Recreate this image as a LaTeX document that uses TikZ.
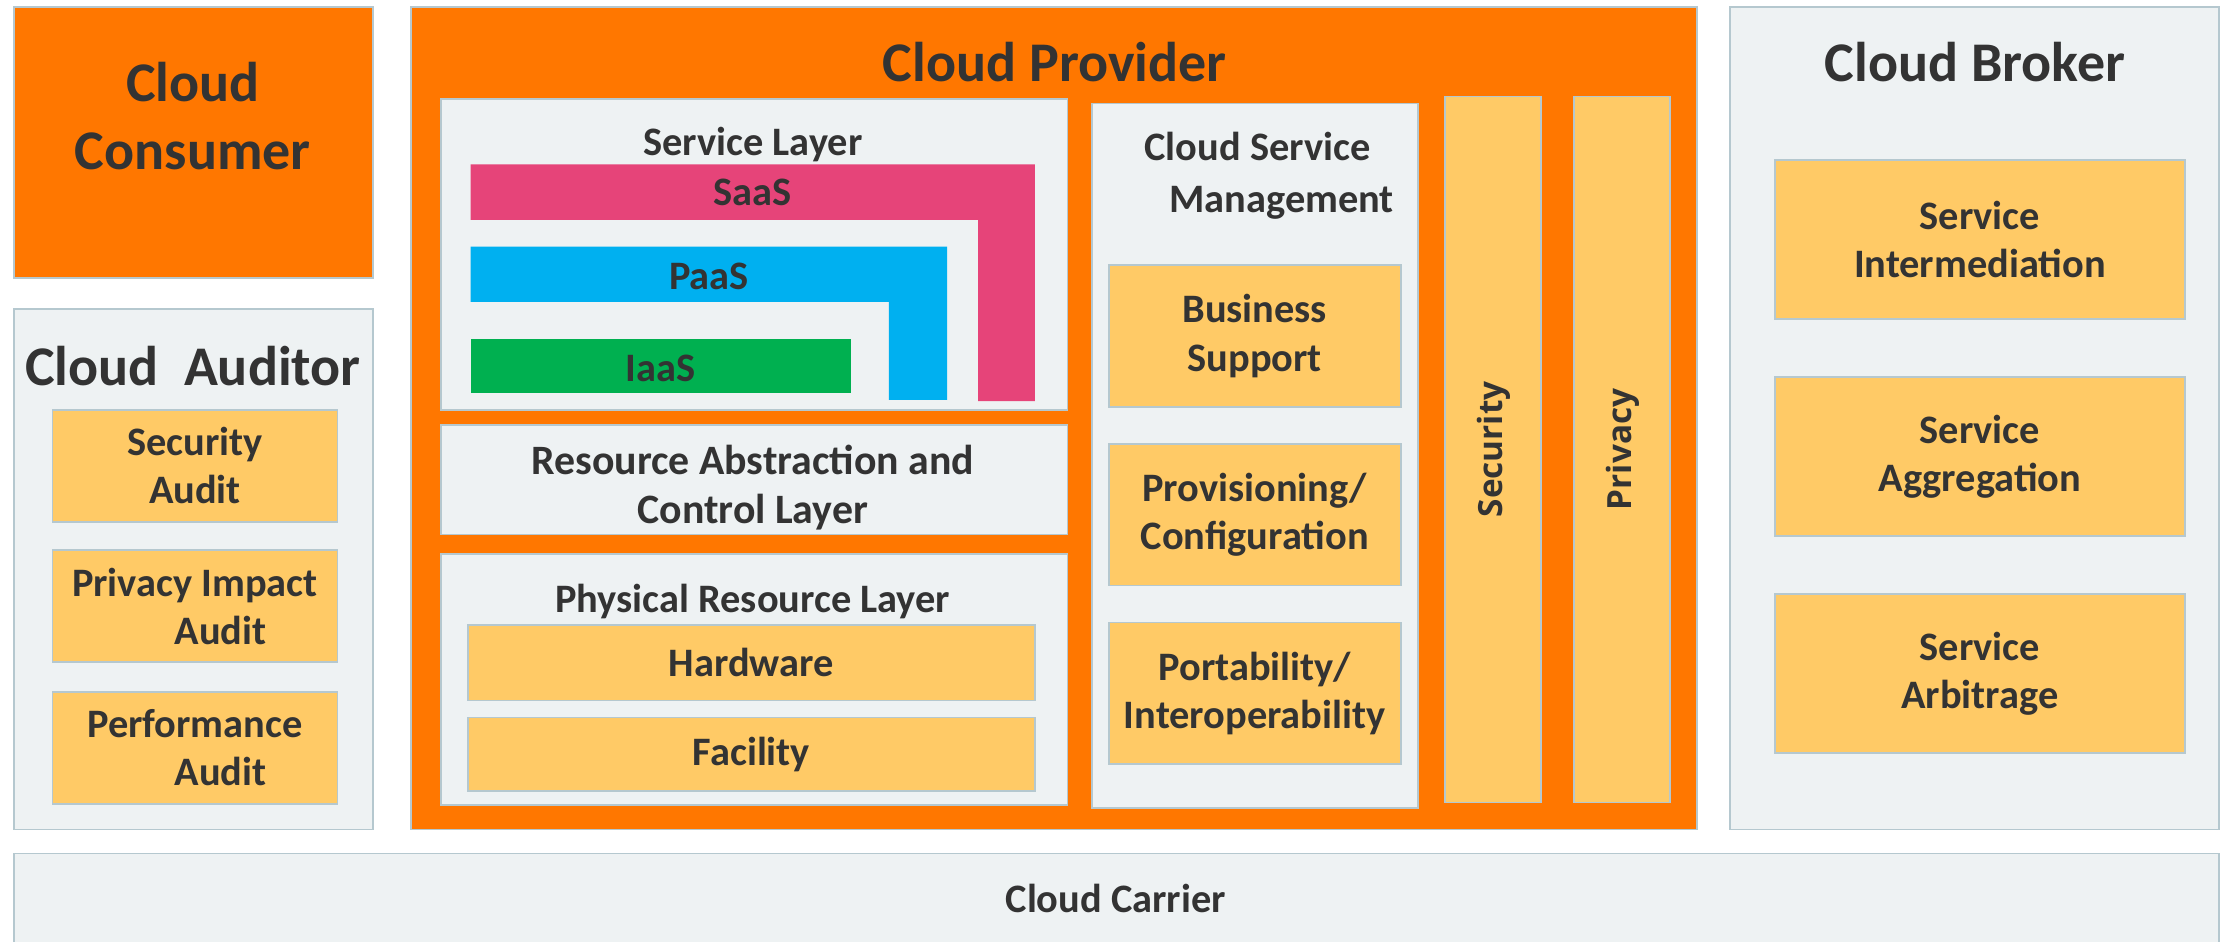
\documentclass[tikz,border=0pt]{standalone}
\usepackage{fontspec}
\setmainfont{Carlito}
\newfontfamily\widefont{Open Sans}
\definecolor{orng}{HTML}{FF7700}
\definecolor{lgray}{HTML}{EEF2F3}
\definecolor{bord}{HTML}{B5C8CF}
\definecolor{ylw}{HTML}{FFCA66}
\definecolor{saas}{HTML}{E64479}
\definecolor{paas}{HTML}{00B0F0}
\definecolor{iaas}{HTML}{00B050}
\definecolor{txt}{HTML}{333333}
\newcommand\bx[7]{\node[#6, minimum width={#4-#2}, minimum height={#5-#3}] (#1) at ({(#2+#4)/2},{(#3+#5)/2}) {#7};}
\tikzset{
  panel/.style={draw=bord, line width=1.2pt, fill=lgray},
  orbox/.style={draw=bord, line width=1.2pt, fill=orng},
  ybox/.style={draw=bord, line width=1.2pt, fill=ylw, align=center, font=\bfseries\fontsize{28.5}{34}\selectfont},
  bigtitle/.style={font=\bfseries\fontsize{39.5}{48}\selectfont, align=center},
  lbl/.style={font=\bfseries\fontsize{28.5}{35}\selectfont, align=center},
  vlbl/.style={rotate=90, font=\widefont\bfseries\fontsize{23.5}{26}\selectfont},
}
\begin{document}
\begin{tikzpicture}[x=1pt,y=-1pt, every node/.style={inner sep=0pt,outer sep=0pt,text=txt}]
\useasboundingbox (0,0) rectangle (1568,664);
\fill[white] (0,0) rectangle (1568,664);
% Cloud Consumer
\bx{consumer}{10}{5}{263}{196}{orbox}{}
\node[bigtitle] (consumerT) at (136,82) {Cloud\\Consumer};
% Cloud Auditor
\bx{auditor}{10}{218}{263}{585}{panel}{}
\node[bigtitle] (auditorT) at (136,258) {Cloud\ \ Auditor};
\bx{secaudit}{37}{289}{238}{368}{ybox}{Security\\Audit}
\bx{privaudit}{37}{388}{238}{467}{ybox}{Privacy Impact\\\hspace*{36pt}Audit}
\bx{perfaudit}{37}{488}{238}{567}{ybox}{Performance\\\hspace*{36pt}Audit}
% Cloud Provider
\bx{provider}{290}{5}{1197}{585}{orbox}{}
\node[bigtitle] (providerT) at (744,44) {Cloud Provider};
\bx{servlayer}{311}{70}{753}{289}{panel}{}
\node[lbl] (servlayerT) at (531,102) {Service Layer};
\fill[saas] (332,116) -- (730,116) -- (730,283) -- (690,283) -- (690,155) -- (332,155) -- cycle;
\fill[paas] (332,174) -- (668,174) -- (668,282) -- (627,282) -- (627,213) -- (332,213) -- cycle;
\fill[iaas] (332,239) rectangle (600,277);
\node[lbl] (saasT) at (531,136) {SaaS};
\node[lbl] (paasT) at (500,195) {PaaS};
\node[lbl] (iaasT) at (466,260) {IaaS};
\bx{resabs}{311}{300}{753}{377}{panel}{}
\node[lbl, font=\bfseries\fontsize{29.5}{35}\selectfont] (resabsT) at (531,344) {Resource Abstraction and\\Control Layer};
\bx{physlayer}{311}{391}{753}{568}{panel}{}
\node[lbl] (physT) at (531,424) {Physical Resource Layer};
\bx{hardware}{330}{441}{730}{494}{ybox}{Hardware}
\bx{facility}{330}{506}{730}{558}{ybox}{Facility}
\bx{csm}{770}{73}{1000}{570}{panel}{}
\node[lbl, font=\bfseries\fontsize{28.5}{37}\selectfont] (csmT) at (887,124) {Cloud Service\\\hspace*{34pt}Management};
\bx{business}{782}{187}{988}{287}{ybox}{Business\\Support}
\bx{provisioning}{782}{313}{988}{413}{ybox}{Provisioning/\\Configuration}
\bx{portability}{782}{439}{988}{539}{ybox}{Portability/\\Interoperability}
\bx{security}{1019}{68}{1087}{566}{ybox}{}
\node[vlbl] (securityT) at (1054,317) {Security};
\bx{privacy}{1110}{68}{1178}{566}{ybox}{}
\node[vlbl] (privacyT) at (1145,317) {Privacy};
% Cloud Broker
\bx{broker}{1220}{5}{1565}{585}{panel}{}
\node[bigtitle] (brokerT) at (1393,44) {Cloud Broker};
\bx{intermed}{1252}{113}{1541}{225}{ybox}{Service\\Intermediation}
\bx{aggreg}{1252}{266}{1541}{378}{ybox}{Service\\Aggregation}
\bx{arbit}{1252}{419}{1541}{531}{ybox}{Service\\Arbitrage}
% Cloud Carrier
\bx{carrier}{10}{602}{1565}{680}{panel}{}
\node[lbl] (carrierT) at (787,634) {Cloud Carrier};
\end{tikzpicture}
\end{document}
